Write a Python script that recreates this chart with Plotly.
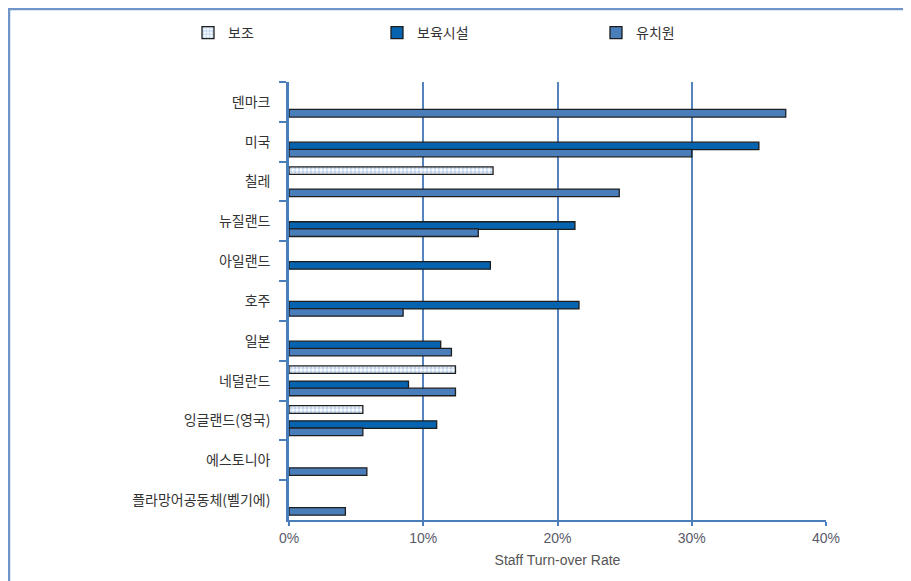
import plotly.graph_objects as go

categories = ['덴마크', '미국', '칠레', '뉴질랜드', '아일랜드', '호주', '일본',
              '네덜란드', '잉글랜드(영국)', '에스토니아', '플라망어공동체(벨기에)']
series_names = ['보조', '보육시설', '유치원']
support = [None, None, 15.2, None, None, None, None, 12.4, 5.5, None, None]
childcare = [None, 35.0, None, 21.3, 15.0, 21.6, 11.3, 8.9, 11.0, None, None]
kindergarten = [37.0, 30.0, 24.6, 14.1, None, 8.5, 12.1, 12.4, 5.5, 5.8, 4.2]
x_ticks = [0, 10, 20, 30, 40]
x_ticklabels = ['0%', '10%', '20%', '30%', '40%']
x_title = 'Staff Turn-over Rate'

OFF = 8  # page body margin
W, H = 911 - OFF, 581 - OFF
L, R, T, B = 289 - OFF, 85, 82 - OFF, 61
pw, ph = W - L - R, H - T - B

def px_x(p):
    return (p - OFF - L) / pw

def px_y(p):
    return (H - B - (p - OFF)) / ph

BLUE_AX = '#4A7EBB'
OUT = '#1e1e1e'
bw = 0.19

fig = go.Figure()
fig.add_trace(go.Bar(
    y=categories, x=support, name=series_names[0], orientation='h',
    width=bw, offset=-0.37, showlegend=True,
    marker=dict(color='white', line=dict(color=OUT, width=1.3),
                pattern=dict(shape='.', fgcolor='#7FA8DC', bgcolor='white', size=4, solidity=0.55)),
    legend='legend'))
fig.add_trace(go.Bar(
    y=categories, x=childcare, name=series_names[1], orientation='h',
    width=bw, offset=0.01, showlegend=True,
    marker=dict(color='#0563AF', line=dict(color=OUT, width=1.3)),
    legend='legend2'))
fig.add_trace(go.Bar(
    y=categories, x=kindergarten, name=series_names[2], orientation='h',
    width=bw, offset=0.19, showlegend=True,
    marker=dict(color='#4A7EBB', line=dict(color=OUT, width=1.3)),
    legend='legend3'))

leg_common = dict(orientation='h', yanchor='middle', xanchor='left', visible=True,
                  font=dict(family='Noto Sans CJK KR', size=14, color='#333333'),
                  bgcolor='rgba(0,0,0,0)')
fig.update_layout(
    width=W, height=H,
    margin=dict(l=L, r=R, t=T, b=B, autoexpand=False),
    barmode='overlay', showlegend=True,
    plot_bgcolor='white', paper_bgcolor='white',
    legend=dict(x=px_x(188), y=px_y(33), **leg_common),
    legend2=dict(x=px_x(377), y=px_y(33), **leg_common),
    legend3=dict(x=px_x(596), y=px_y(33), **leg_common),
    xaxis=dict(range=[0, 40], tickvals=x_ticks, ticktext=x_ticklabels,
               showgrid=True, gridcolor='#5583BE', gridwidth=2,
               showline=True, linecolor=BLUE_AX, linewidth=2,
               ticks='outside', ticklen=4, tickcolor=BLUE_AX, tickwidth=2,
               tickfont=dict(family='Liberation Sans', size=14, color='#5a5a6a'),
               title=dict(text=x_title, font=dict(family='Liberation Sans', size=14, color='#555555'),
                          standoff=10),
               zeroline=False, fixedrange=True),
    yaxis=dict(type='category', range=[10.5, -0.5], tickson='boundaries',
               showline=True, linecolor=BLUE_AX, linewidth=2.5,
               ticks='outside', ticklen=7, tickcolor=BLUE_AX, tickwidth=2,
               ticklabelstandoff=13,
               tickfont=dict(family='Noto Sans CJK KR', size=14, color='#333333'),
               showgrid=False, fixedrange=True),
    shapes=[dict(type='path', xref='paper', yref='paper',
                 path=f'M {px_x(9)},{px_y(600)} L {px_x(9)},{px_y(9)} L {px_x(930)},{px_y(9)}',
                 line=dict(color='#6F96C8', width=2.5))],
)

fig.write_html('out.html')
